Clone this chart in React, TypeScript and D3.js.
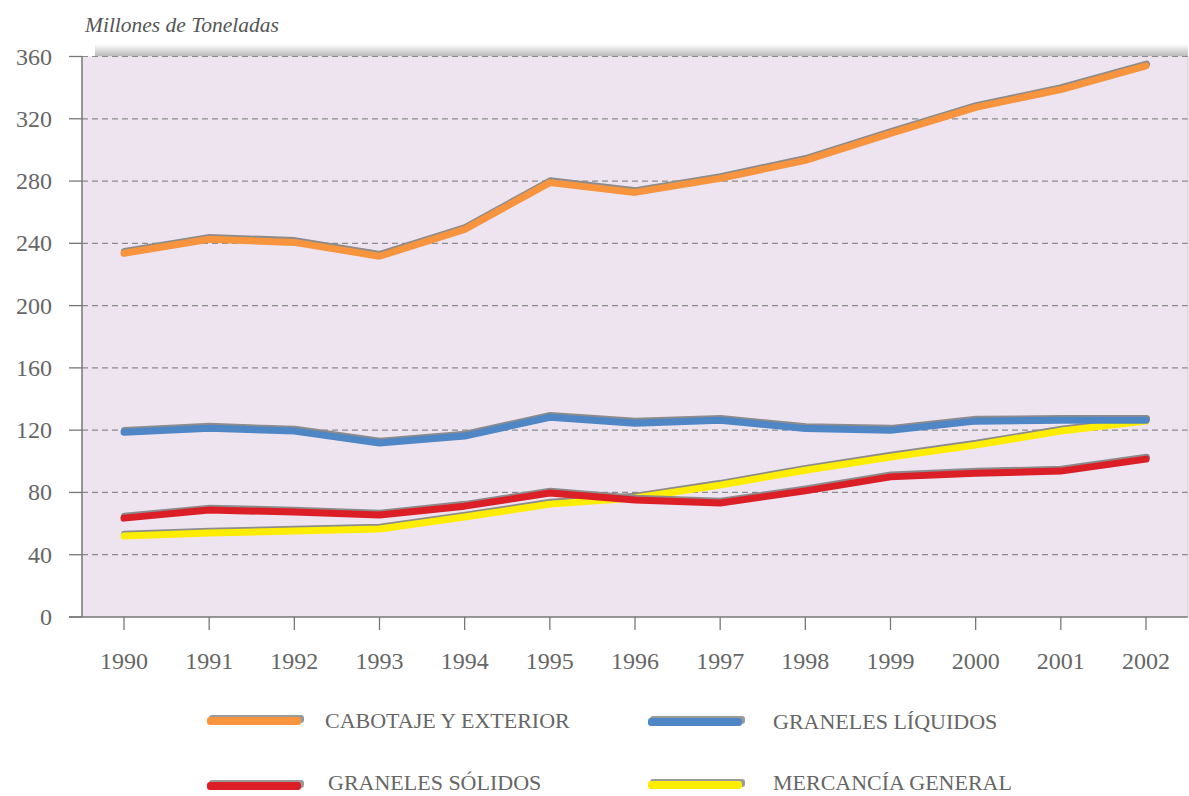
import React from "react";
import * as d3 from "d3";

const years = [1990, 1991, 1992, 1993, 1994, 1995, 1996, 1997, 1998, 1999, 2000, 2001, 2002];
const cabotaje = [233.6, 242.6, 240.6, 231.7, 249, 279, 272.7, 281.7, 293.3, 310.6, 327.3, 338.8, 354];
const liquidos = [118.7, 121.3, 119.4, 111.7, 116.2, 128.3, 124.5, 126.4, 121, 120, 125.8, 126.4, 126.4];
const solidos = [63.5, 68.7, 67.4, 65.5, 71.2, 79.6, 75.1, 73.2, 81, 90, 92.4, 93.7, 101.4];
const mercancia = [52, 53.9, 55.2, 56.5, 64.2, 72.5, 76.4, 84.7, 94.3, 102.7, 110.4, 119.4, 125.8];
const yTicks = [0, 40, 80, 120, 160, 200, 240, 280, 320, 360];

const seriesNames = ["CABOTAJE Y EXTERIOR", "GRANELES LÍQUIDOS", "GRANELES SÓLIDOS", "MERCANCÍA GENERAL"];
const seriesValues = [cabotaje, liquidos, solidos, mercancia];
const seriesColors = ["#F7943D", "#4E86C6", "#DC1F26", "#FFED00"];

const FONT = "'Liberation Serif', 'Times New Roman', serif";

export default function App() {
  const W = 1189, H = 796;
  const left = 82, right = 1188, top = 56.5, bottom = 617;
  const x = d3.scaleLinear().domain([1990, 2002]).range([124, 1146]);
  const y = d3.scaleLinear().domain([0, 360]).range([bottom, top]);
  const line = d3.line<number>().x((_, i) => x(years[i])).y((v) => y(v));

  const legendPos = [
    { sx: 207, sy: 720, tx: 325, ty: 728 },
    { sx: 648, sy: 721, tx: 773, ty: 729 },
    { sx: 207, sy: 785, tx: 328, ty: 790 },
    { sx: 648, sy: 784, tx: 773, ty: 790 },
  ];

  const drawOrder = [3, 2, 1, 0];

  return (
    <svg width={W} height={H} style={{ position: "absolute", left: 0, top: 0, background: "#fff" }}>
      <defs>
        <linearGradient id="topShadow" x1="0" y1="0" x2="0" y2="1">
          <stop offset="0" stopColor="#ffffff" />
          <stop offset="1" stopColor="#b8b8b8" />
        </linearGradient>
      </defs>
      <rect x={95} y={44} width={right - 95} height={top - 44} fill="url(#topShadow)" />
      <rect x={left} y={top} width={right - left} height={bottom - top} fill="#EEE4F0" />
      <text x={85} y={32} fontFamily={FONT} fontStyle="italic" fontSize={21.5} fill="#555">
        Millones de Toneladas
      </text>
      {yTicks.map((t) => (
        <g key={t}>
          {t > 0 && (
            <line x1={left} x2={right} y1={y(t)} y2={y(t)} stroke="#8a8a8a" strokeWidth={1.2} strokeDasharray="6 4" />
          )}
          <line x1={69} x2={left} y1={y(t)} y2={y(t)} stroke="#777" strokeWidth={1.3} />
          <text x={52} y={y(t) + 8} textAnchor="end" fontFamily={FONT} fontSize={24} fill="#666">
            {t}
          </text>
        </g>
      ))}
      <line x1={left} x2={left} y1={top} y2={bottom} stroke="#777" strokeWidth={1.5} />
      <line x1={69} x2={right} y1={bottom} y2={bottom} stroke="#777" strokeWidth={1.5} />
      <line x1={right} x2={right} y1={top} y2={bottom} stroke="#ccc" strokeWidth={1} />
      {years.map((yr) => (
        <g key={yr}>
          <line x1={x(yr)} x2={x(yr)} y1={bottom} y2={bottom + 13} stroke="#777" strokeWidth={1.3} />
          <text x={x(yr)} y={bottom + 52} textAnchor="middle" fontFamily={FONT} fontSize={24} fill="#666">
            {yr}
          </text>
        </g>
      ))}
      {drawOrder.map((i) => (
        <g key={i}>
          <path
            d={line(seriesValues[i]) || ""}
            transform="translate(0.5,-1.8)"
            fill="none"
            stroke="#8c8c8c"
            strokeWidth={7}
            strokeLinejoin="round"
            strokeLinecap="round"
          />
          <path
            d={line(seriesValues[i]) || ""}
            fill="none"
            stroke={seriesColors[i]}
            strokeWidth={7}
            strokeLinejoin="round"
            strokeLinecap="round"
          />
        </g>
      ))}
      {seriesNames.map((name, i) => {
        const p = legendPos[i];
        return (
          <g key={name}>
            <rect x={p.sx + 2} y={p.sy - 5} width={95} height={8} rx={3} fill="#9a9a9a" />
            <rect x={p.sx} y={p.sy - 3} width={94} height={8} rx={3} fill={seriesColors[i]} />
            <text x={p.tx} y={p.ty} fontFamily={FONT} fontSize={22} fill="#666">
              {name}
            </text>
          </g>
        );
      })}
    </svg>
  );
}
